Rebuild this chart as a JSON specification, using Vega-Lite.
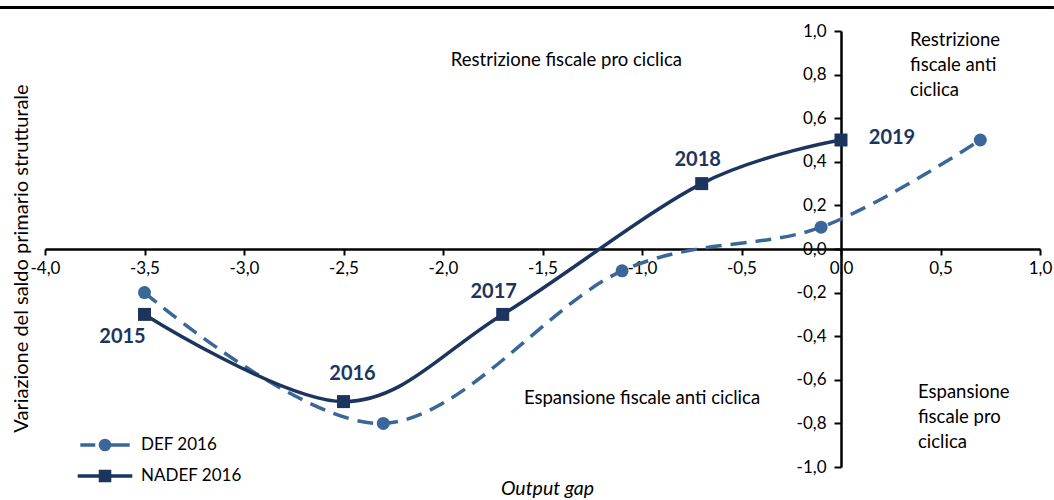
{
  "$schema": "https://vega.github.io/schema/vega-lite/v6.json",
  "width": 995,
  "height": 436,
  "autosize": {"type": "none"},
  "padding": {"left": 45, "top": 31, "right": 14, "bottom": 33},
  "background": "white",
  "config": {
    "view": {"stroke": null},
    "font": "Lato",
    "locale": {"number": {"decimal": ",", "thousands": ".", "grouping": [3], "currency": ["", " €"], "minus": "-"}}
  },
  "datasets": {
    "series": [
      {"series": "DEF 2016", "x": -3.5, "y": -0.2},
      {"series": "DEF 2016", "x": -2.3, "y": -0.8},
      {"series": "DEF 2016", "x": -1.1, "y": -0.1},
      {"series": "DEF 2016", "x": -0.1, "y": 0.1},
      {"series": "DEF 2016", "x": 0.7, "y": 0.5},
      {"series": "NADEF 2016", "x": -3.5, "y": -0.3, "year": "2015"},
      {"series": "NADEF 2016", "x": -2.5, "y": -0.7, "year": "2016"},
      {"series": "NADEF 2016", "x": -1.7, "y": -0.3, "year": "2017"},
      {"series": "NADEF 2016", "x": -0.7, "y": 0.3, "year": "2018"},
      {"series": "NADEF 2016", "x": 0.0, "y": 0.5, "year": "2019"}
    ],
    "top": [{"x": -4.23, "x2": 1.07, "y": 1.108}],
    "notesC": [
      {"x": -1.38, "y": 0.869, "text": "Restrizione fiscale pro ciclica"},
      {"x": -1.0, "y": -0.685, "text": "Espansione fiscale anti ciclica"}
    ],
    "notesL": [
      {"x": 0.347, "y": 0.933, "text": ["Restrizione", "fiscale anti", "ciclica"]},
      {"x": 0.387, "y": -0.685, "text": ["Espansione", "fiscale pro", "ciclica"]}
    ]
  },
  "encoding": {
    "x": {
      "field": "x",
      "type": "quantitative",
      "scale": {"domain": [-4, 1], "nice": false, "zero": false},
      "axis": {
        "title": "Output gap",
        "orient": "bottom",
        "offset": -218,
        "values": [-4, -3.5, -3, -2.5, -2, -1.5, -1, -0.5, 0, 0.5, 1],
        "format": ".1f",
        "grid": false,
        "domainColor": "#000",
        "domainWidth": 2.5,
        "tickColor": "#000",
        "tickWidth": 2,
        "tickSize": 6,
        "labelFontSize": 17,
        "labelColor": "#000",
        "labelPadding": 5,
        "labelFlush": false,
        "labelOverlap": false,
        "labelBound": false,
        "titleFontSize": 19.5,
        "titleFontStyle": "italic",
        "titleFontWeight": "normal",
        "titleColor": "#000",
        "titleX": 502,
        "titleY": 239,
        "titleBaseline": "middle"
      }
    },
    "y": {
      "field": "y",
      "type": "quantitative",
      "scale": {"domain": [-1, 1], "nice": false, "zero": false},
      "axis": {
        "title": "Variazione del saldo primario strutturale",
        "orient": "left",
        "offset": -796,
        "values": [-1, -0.8, -0.6, -0.4, -0.2, 0, 0.2, 0.4, 0.6, 0.8, 1],
        "format": ".1f",
        "grid": false,
        "domainColor": "#000",
        "domainWidth": 2.5,
        "tickColor": "#000",
        "tickWidth": 2,
        "tickSize": 7,
        "labelFontSize": 17,
        "labelColor": "#000",
        "labelPadding": 8,
        "labelOverlap": false,
        "labelBound": false,
        "labelFlush": false,
        "titleFontSize": 20,
        "titleFontWeight": "normal",
        "titleColor": "#000",
        "titleAngle": 270,
        "titleX": -820,
        "titleY": 227,
        "titleBaseline": "middle"
      }
    }
  },
  "layer": [
    {
      "data": {"name": "top"},
      "mark": {"type": "rule", "color": "#000", "strokeWidth": 3},
      "encoding": {"x2": {"field": "x2"}}
    },
    {
      "data": {"name": "series"},
      "transform": [{"filter": "datum.series === 'DEF 2016'"}],
      "mark": {"type": "line", "interpolate": "cardinal", "strokeWidth": 3.5, "color": "#3b6699", "strokeDash": [16, 9]},
      "encoding": {}
    },
    {
      "data": {"name": "series"},
      "transform": [{"filter": "datum.series === 'NADEF 2016'"}],
      "mark": {"type": "line", "interpolate": "cardinal", "strokeWidth": 3.5, "color": "#1c355e"},
      "encoding": {}
    },
    {
      "data": {"name": "series"},
      "transform": [{"filter": "datum.series === 'DEF 2016'"}],
      "mark": {"type": "point", "filled": true, "size": 169, "opacity": 1, "shape": "circle", "color": "#3b6699"},
      "encoding": {}
    },
    {
      "data": {"name": "series"},
      "transform": [{"filter": "datum.series === 'NADEF 2016'"}],
      "mark": {"type": "point", "filled": true, "size": 169, "opacity": 1, "shape": "square", "color": "#1c355e"},
      "encoding": {}
    },
    {
      "data": {"name": "series"},
      "mark": {"type": "point", "filled": true, "opacity": 0},
      "encoding": {
        "fill": {"field": "series", "type": "nominal", "scale": {"domain": ["DEF 2016", "NADEF 2016"], "range": ["#3b6699", "#1c355e"]}},
        "stroke": {"field": "series", "type": "nominal", "scale": {"domain": ["DEF 2016", "NADEF 2016"], "range": ["#3b6699", "#1c355e"]}},
        "shape": {
          "field": "series",
          "type": "nominal",
          "scale": {
            "domain": ["DEF 2016", "NADEF 2016"],
            "range": [
              "M-1.9,0L-0.75,0M0.35,0L1.9,0M-0.35,0A0.35,0.35,0,1,1,0.35,0A0.35,0.35,0,1,1,-0.35,0Z",
              "M-2.1,0L2.1,0M-0.35,-0.35L0.35,-0.35L0.35,0.35L-0.35,0.35Z"
            ]
          },
          "legend": {
            "title": null,
            "orient": "none",
            "legendX": 45,
            "legendY": 399,
            "direction": "vertical",
            "symbolSize": 676,
            "symbolStrokeWidth": 3.5,
            "symbolOpacity": 1,
            "labelFontSize": 17,
            "labelColor": "#000",
            "labelOffset": 21,
            "rowPadding": 4,
            "padding": 0
          }
        }
      }
    },
    {
      "data": {"name": "series"},
      "transform": [{"filter": "datum.year === '2015'"}],
      "mark": {"type": "text", "fontSize": 20, "fontWeight": "bold", "color": "#1c355e", "dx": -22, "dy": 23, "baseline": "middle"},
      "encoding": {"text": {"field": "year"}}
    },
    {
      "data": {"name": "series"},
      "transform": [{"filter": "datum.year === '2016'"}],
      "mark": {"type": "text", "fontSize": 20, "fontWeight": "bold", "color": "#1c355e", "dx": 9, "dy": -28, "baseline": "middle"},
      "encoding": {"text": {"field": "year"}}
    },
    {
      "data": {"name": "series"},
      "transform": [{"filter": "datum.year === '2017'"}],
      "mark": {"type": "text", "fontSize": 20, "fontWeight": "bold", "color": "#1c355e", "dx": -9, "dy": -22, "baseline": "middle"},
      "encoding": {"text": {"field": "year"}}
    },
    {
      "data": {"name": "series"},
      "transform": [{"filter": "datum.year === '2018'"}],
      "mark": {"type": "text", "fontSize": 20, "fontWeight": "bold", "color": "#1c355e", "dx": -4, "dy": -24, "baseline": "middle"},
      "encoding": {"text": {"field": "year"}}
    },
    {
      "data": {"name": "series"},
      "transform": [{"filter": "datum.year === '2019'"}],
      "mark": {"type": "text", "fontSize": 20, "fontWeight": "bold", "color": "#1c355e", "dx": 51, "dy": -2, "baseline": "middle"},
      "encoding": {"text": {"field": "year"}}
    },
    {
      "data": {"name": "notesC"},
      "mark": {"type": "text", "fontSize": 18.5, "color": "#000", "align": "center", "baseline": "middle"},
      "encoding": {"text": {"field": "text"}}
    },
    {
      "data": {"name": "notesL"},
      "mark": {"type": "text", "fontSize": 18.5, "color": "#000", "align": "left", "baseline": "alphabetic", "lineHeight": 25},
      "encoding": {"text": {"field": "text"}}
    }
  ]
}
